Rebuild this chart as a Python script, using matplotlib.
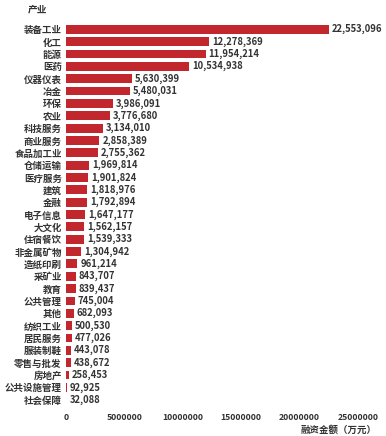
import matplotlib
matplotlib.use('Agg')
import matplotlib.pyplot as plt

plt.rcParams['font.family'] = ['Noto Sans CJK SC', 'DejaVu Sans']

industries = ['装备工业', '化工', '能源', '医药', '仪器仪表', '冶金', '环保', '农业',
              '科技服务', '商业服务', '食品加工业', '仓储运输', '医疗服务', '建筑', '金融',
              '电子信息', '大文化', '住宿餐饮', '非金属矿物', '造纸印刷', '采矿业', '教育',
              '公共管理', '其他', '纺织工业', '居民服务', '服装制鞋', '零售与批发', '房地产',
              '公共设施管理', '社会保障']
amounts = [22553096, 12278369, 11954214, 10534938, 5630399, 5480031, 3986091, 3776680,
           3134010, 2858389, 2755362, 1969814, 1901824, 1818976, 1792894,
           1647177, 1562157, 1539333, 1304942, 961214, 843707, 839437,
           745004, 682093, 500530, 477026, 443078, 438672, 258453,
           92925, 32088]
xticks = [0, 5000000, 10000000, 15000000, 20000000, 25000000]

fig = plt.figure(figsize=(3.86, 4.36), dpi=100)
ax = fig.add_axes([0.171, 0.069, 0.756, 0.878])

n = len(industries)
ypos = list(range(n))
ax.barh(ypos, amounts, height=0.72, color='#c1272d')
for y, v in zip(ypos, amounts):
    ax.text(v + 250000, y, f'{v:,}', va='center', ha='left', fontsize=6.8,
            fontweight='bold', color='#333333')

ax.set_yticks(ypos)
ax.set_yticklabels(industries, fontsize=6.8, fontweight='bold', color='#333333')
ax.set_ylim(n - 0.5, -0.5)
ax.set_xlim(0, 25000000)
ax.set_xticks(xticks)
ax.set_xticklabels([str(t) for t in xticks], fontsize=6.2, fontweight='bold', color='#333333')
ax.tick_params(length=0, pad=3)
ax.tick_params(axis='x', pad=5)
for s in ax.spines.values():
    s.set_visible(False)

fig.text(0.072, 0.99, '产业', fontsize=7, fontweight='bold', color='#333333', va='top', ha='left')
fig.text(0.975, 0.014, '融资金额（万元）', fontsize=6.8, fontweight='bold', color='#333333',
         va='center', ha='right')

fig.savefig('out.png', dpi=100)
